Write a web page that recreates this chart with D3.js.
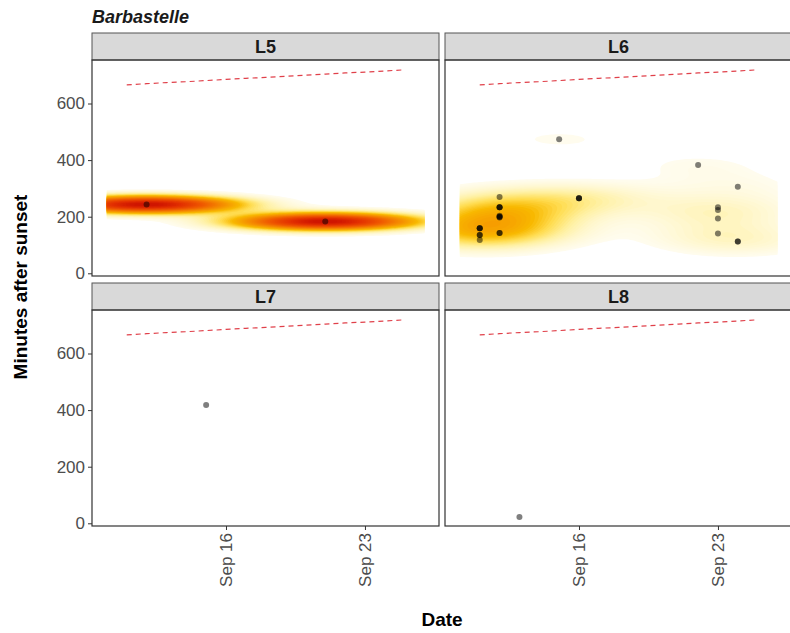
<!DOCTYPE html>
<html>
<head>
<meta charset="utf-8">
<script src="https://cdn.jsdelivr.net/npm/d3@7"></script>
<style>
body { margin: 0; background: #fff; }
text { font-family: "Liberation Sans", Arial, sans-serif; }
</style>
</head>
<body>
<script>
// Data: day of September (2019) and minutes after sunset, per site
var panels = ["L5", "L6", "L7", "L8"];

var l5Days = [12, 21];
var l5Mins = [243, 183];

// overlapping (darker) points are repeated detections
var l6Days = [11, 11, 11, 11, 11, 11,
	12, 12, 12, 12, 12, 12, 12, 12, 12, 12,
	15, 16, 16, 16, 22, 23, 23, 23, 23, 24, 24, 24];
var l6Mins = [159, 159, 159, 135, 135, 118,
	270, 233, 233, 233, 203, 200, 200, 197, 142, 142,
	474, 265, 265, 265, 383, 233, 224, 194, 141, 306, 112, 112];

var l7Days = [15];
var l7Mins = [418];

var l8Days = [13];
var l8Mins = [22];

// sunrise, minutes after sunset
var sunriseDays = [11, 12, 13, 14, 15, 16, 17, 18, 19, 20, 21, 22, 23, 24, 25];
var sunriseMins = [666, 670, 674, 677, 681, 685, 689, 692, 696, 700, 704, 708, 711, 715, 719];

var xTickDays = [16, 23];
var yTicks = [0, 200, 400, 600];

var panelDays = [l5Days, l6Days, l7Days, l8Days];
var panelMins = [l5Mins, l6Mins, l7Mins, l8Mins];

// layout
var width = 790, height = 633;
var panelW = 347, panelH = 216, stripH = 27;
var colLeft = [92, 445], rowTop = [60, 310];

var svg = d3.select("body").append("svg")
	.attr("width", width)
	.attr("height", height);

function toDate(d) {
	return new Date(new Date(2019, 8, 1).getTime() + (d - 1) * 864e5);
}

var x = d3.scaleTime().domain([toDate(9.25), toDate(26.73)]).range([0, panelW]);
var y = d3.scaleLinear().domain([-9.5, 753.7]).range([panelH, 0]);

// density colours (fraction of max density)
var fillStops = [0.037, 0.1, 0.16, 0.24, 0.32, 0.45, 0.65, 0.85, 1];
var fillColors = ["#fffcee", "#fff7cc", "#fff0a0", "#ffdc50", "#f8b800", "#f59000", "#ef5a00", "#e23000", "#cc1100"];

// MASS::bandwidth.nrd
function bandwidthNrd(v) {
	var s = v.slice().sort(d3.ascending);
	var h = (d3.quantileSorted(s, 0.75) - d3.quantileSorted(s, 0.25)) / 1.34;
	return 4 * 1.06 * Math.min(d3.deviation(v), h) * Math.pow(v.length, -0.2);
}

// MASS::kde2d style grid
function kde2d(xs, ys) {
	var g = { nx: 161, ny: 121, x0: 10, x1: 26, y0: 0, y1: 720 };
	g.dx = (g.x1 - g.x0) / (g.nx - 1);
	g.dy = (g.y1 - g.y0) / (g.ny - 1);
	var hx = bandwidthNrd(xs) / 4, hy = bandwidthNrd(ys) / 4;
	var n = xs.length;
	g.values = new Array(g.nx * g.ny);
	for (var j = 0; j < g.ny; j++) {
		var gy = g.y0 + j * g.dy;
		for (var i = 0; i < g.nx; i++) {
			var gx = g.x0 + i * g.dx, s = 0;
			for (var k = 0; k < n; k++) {
				var u = (gx - xs[k]) / hx, w = (gy - ys[k]) / hy;
				s += Math.exp(-0.5 * (u * u + w * w));
			}
			g.values[j * g.nx + i] = s / (2 * Math.PI * n * hx * hy);
		}
	}
	g.max = d3.max(g.values);
	return g;
}

var grids = panelDays.map(function(d, p) {
	return d.length > 1 ? kde2d(d, panelMins[p]) : null;
});
var gmax = d3.max(grids, function(g) { return g ? g.max : 0; });

var fill = d3.scaleLinear()
	.domain(fillStops.map(function(s) { return s * gmax; }))
	.range(fillColors)
	.clamp(true);

var thresholds = d3.range(0, 70).map(function(k) {
	return gmax * (0.037 + 0.963 * Math.pow(k / 69, 1.3));
});

var line = d3.line()
	.x(function(d, i) { return x(toDate(sunriseDays[i])); })
	.y(function(d) { return y(d); });

panels.forEach(function(name, p) {
	var col = p % 2, row = Math.floor(p / 2);
	var g = svg.append("g")
		.attr("transform", "translate(" + colLeft[col] + "," + rowTop[row] + ")");

	// strip
	g.append("rect")
		.attr("x", 0).attr("y", -stripH)
		.attr("width", panelW).attr("height", stripH)
		.attr("fill", "#d9d9d9")
		.attr("stroke", "#555")
		.attr("stroke-width", 1);
	g.append("text")
		.attr("x", panelW / 2).attr("y", -stripH / 2)
		.attr("dy", "0.36em")
		.attr("text-anchor", "middle")
		.attr("font-size", 18)
		.attr("font-weight", "bold")
		.attr("fill", "#1a1a1a")
		.text(name);

	g.append("clipPath").attr("id", "clip" + p)
		.append("rect").attr("width", panelW).attr("height", panelH);
	var body = g.append("g").attr("clip-path", "url(#clip" + p + ")");

	// density
	var grid = grids[p];
	if (grid) {
		var proj = d3.geoTransform({
			point: function(px, py) {
				var gx = Math.max(0, Math.min(grid.nx - 1, px - 0.5));
				var gy = Math.max(0, Math.min(grid.ny - 1, py - 0.5));
				this.stream.point(x(toDate(grid.x0 + gx * grid.dx)), y(grid.y0 + gy * grid.dy));
			}
		});
		var path = d3.geoPath(proj);
		var contours = d3.contours()
			.size([grid.nx, grid.ny])
			.thresholds(thresholds.filter(function(t) { return t < grid.max; }))
			(grid.values);
		body.append("g").selectAll("path")
			.data(contours)
			.enter().append("path")
			.attr("d", path)
			.attr("fill", function(c) { return fill(c.value); });
	}

	// sunrise
	body.append("path")
		.datum(sunriseMins)
		.attr("d", line)
		.attr("fill", "none")
		.attr("stroke", "#e0404a")
		.attr("stroke-width", 1.2)
		.attr("stroke-dasharray", "5,4");

	// detections
	body.append("g").selectAll("circle")
		.data(panelDays[p])
		.enter().append("circle")
		.attr("cx", function(d) { return x(toDate(d)); })
		.attr("cy", function(d, i) { return y(panelMins[p][i]); })
		.attr("r", 3)
		.attr("fill", "#000")
		.attr("fill-opacity", 0.5);

	// border
	g.append("rect")
		.attr("width", panelW).attr("height", panelH)
		.attr("fill", "none")
		.attr("stroke", "#333")
		.attr("stroke-width", 1.2);

	if (col === 0) {
		var ya = g.append("g")
			.call(d3.axisLeft(y).tickValues(yTicks).tickSize(4).tickPadding(3));
		ya.select(".domain").remove();
		ya.selectAll("line").attr("stroke", "#333");
		ya.selectAll("text").attr("font-size", 17).attr("fill", "#4d4d4d")
			.attr("font-family", "Liberation Sans, Arial, sans-serif");
	}
	if (row === 1) {
		var xa = g.append("g")
			.attr("transform", "translate(0," + panelH + ")")
			.call(d3.axisBottom(x)
				.tickValues(xTickDays.map(toDate))
				.tickFormat(d3.timeFormat("%b %d"))
				.tickSize(4));
		xa.select(".domain").remove();
		xa.selectAll("line").attr("stroke", "#333");
		xa.selectAll("text")
			.attr("transform", "rotate(-90)")
			.attr("text-anchor", "end")
			.attr("x", -7).attr("y", 0).attr("dy", "0.35em")
			.attr("font-size", 17).attr("fill", "#4d4d4d")
			.attr("font-family", "Liberation Sans, Arial, sans-serif");
	}
});

// titles
svg.append("text")
	.attr("x", 92).attr("y", 23)
	.attr("font-size", 18)
	.attr("font-weight", "bold")
	.attr("font-style", "italic")
	.attr("fill", "#1a1a1a")
	.text("Barbastelle");

svg.append("text")
	.attr("transform", "translate(27,287) rotate(-90)")
	.attr("text-anchor", "middle")
	.attr("font-size", 19)
	.attr("font-weight", "bold")
	.text("Minutes after sunset");

svg.append("text")
	.attr("x", 442).attr("y", 626)
	.attr("text-anchor", "middle")
	.attr("font-size", 19)
	.attr("font-weight", "bold")
	.text("Date");
</script>
</body>
</html>
